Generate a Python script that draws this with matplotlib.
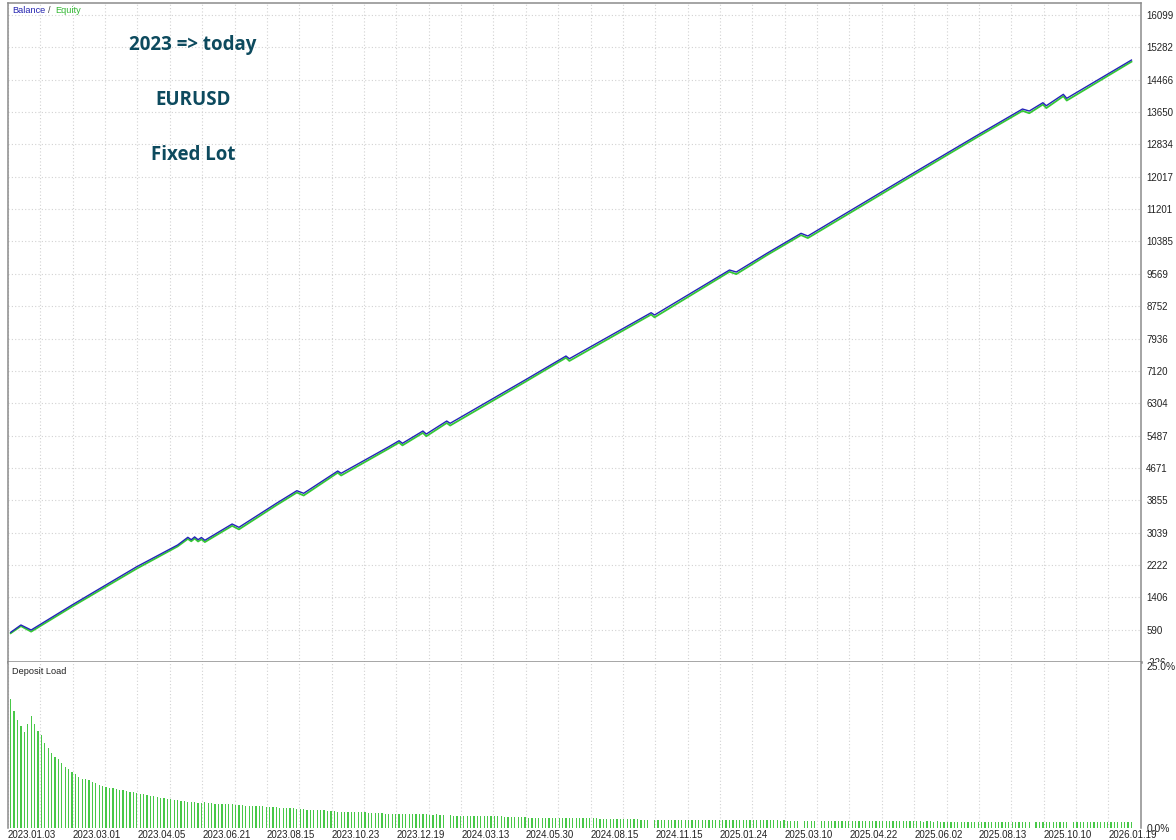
import matplotlib
matplotlib.use('Agg')
import numpy as np
import matplotlib.pyplot as plt
from matplotlib.transforms import Bbox, TransformedBbox

plt.rcParams['font.family'] = ['Liberation Sans', 'DejaVu Sans']

# balance / equity, sampled at deal numbers
bal_deal = [0, 3, 6, 18, 37, 49, 52, 53, 54, 55, 56, 57, 65, 67, 78, 84, 86, 96, 97, 111,
            114, 115, 121, 122, 128, 129, 151, 163, 164, 188, 189, 211, 213, 222, 232, 234,
            264, 283, 297, 299, 303, 304, 309, 310, 329]
bal_val = [523, 708, 581, 1212, 2178, 2726, 2920, 2860, 2930, 2860, 2915, 2845, 3256, 3172,
           3778, 4096, 4030, 4593, 4535, 5206, 5357, 5292, 5602, 5526, 5854, 5796, 6889,
           7494, 7426, 8587, 8529, 9664, 9614, 10086, 10590, 10522, 12061, 13027, 13726,
           13676, 13885, 13809, 14097, 13996, 14962]
eq_val = [500, 680, 540, 1170, 2130, 2690, 2880, 2820, 2890, 2815, 2870, 2800, 3210, 3120,
          3730, 4050, 3975, 4550, 4480, 5160, 5310, 5240, 5555, 5470, 5805, 5740, 6840,
          7450, 7370, 8540, 8470, 9620, 9560, 10040, 10545, 10470, 12010, 12980, 13680,
          13620, 13840, 13750, 14050, 13940, 14920]

# deposit load per deal, %
load_pct = [
    19.4, 17.6, 16.2, 15.3, 14.4, 15.7, 16.8, 15.7, 14.6, 14.0,
    12.7, 12.0, 11.3, 10.6, 10.3, 9.8, 9.2, 8.8, 8.4, 8.1,
    7.7, 7.4, 7.3, 7.1, 6.9, 6.7, 6.4, 6.2, 6.1, 6.0,
    5.9, 5.8, 5.7, 5.6, 5.5, 5.4, 5.3, 5.2, 5.1, 5.0,
    4.9, 4.8, 4.7, 4.6, 4.5, 4.4, 4.3, 4.3, 4.2, 4.1,
    4.0, 4.0, 3.9, 3.8, 3.8, 3.7, 3.7, 3.8, 3.7, 3.7,
    3.6, 3.6, 3.6, 3.5, 3.5, 3.5, 3.4, 3.4, 3.4, 3.3,
    3.3, 3.3, 3.2, 3.2, 3.2, 3.1, 3.1, 3.1, 3.1, 3.0,
    3.0, 2.9, 2.9, 2.9, 2.8, 2.8, 2.8, 2.7, 2.7, 2.7,
    2.6, 2.6, 2.6, 2.5, 2.5, 2.5, 2.4, 2.4, 2.4, 2.4,
    2.3, 2.3, 2.3, 2.3, 2.3, 2.2, 2.2, 2.2, 2.2, 2.2,
    2.1, 2.1, 2.1, 2.1, 2.1, 2.1, 2.1, 2.0, 2.1, 2.0,
    2.0, 2.0, 2.0, 1.9, 1.9, 2.0, 1.9, 1.9, 0.0, 1.9,
    1.8, 1.8, 1.8, 1.8, 1.8, 1.8, 1.8, 1.7, 1.7, 1.7,
    1.7, 1.7, 1.7, 1.7, 1.7, 1.6, 1.6, 1.6, 1.6, 1.6,
    1.6, 1.6, 1.5, 1.5, 1.5, 1.5, 1.5, 1.5, 1.5, 1.5,
    1.5, 1.4, 1.4, 1.4, 1.4, 1.4, 1.4, 1.4, 1.4, 1.4,
    1.4, 1.4, 1.4, 1.3, 1.3, 1.3, 1.3, 1.3, 1.3, 1.3,
    1.3, 1.3, 1.3, 1.3, 1.3, 1.2, 1.2, 1.2, 0.0, 1.2,
    1.2, 1.2, 1.2, 1.2, 1.2, 1.2, 1.2, 1.2, 1.2, 1.2,
    1.2, 1.2, 1.1, 1.1, 1.1, 1.1, 1.1, 1.1, 1.1, 1.1,
    1.1, 1.1, 1.1, 1.1, 1.1, 1.1, 1.1, 1.1, 1.1, 1.1,
    1.1, 1.1, 1.1, 1.1, 1.1, 1.1, 1.0, 1.1, 1.0, 1.0,
    1.0, 1.0, 0.0, 1.0, 1.0, 1.0, 1.0, 0.0, 1.0, 1.0,
    1.0, 1.0, 1.0, 1.0, 1.0, 1.0, 1.0, 1.0, 1.0, 1.0,
    1.0, 1.0, 1.0, 1.0, 1.0, 1.0, 1.0, 1.0, 1.0, 1.0,
    1.0, 1.0, 1.0, 1.0, 1.0, 1.0, 1.0, 1.0, 0.9, 1.0,
    1.0, 0.9, 1.0, 0.9, 0.9, 0.9, 0.9, 0.9, 0.9, 0.9,
    0.9, 0.9, 0.9, 0.9, 0.9, 0.9, 0.9, 0.9, 0.9, 0.9,
    0.9, 0.9, 0.9, 0.9, 0.9, 0.9, 0.9, 0.9, 0.9, 0.9,
    0.0, 0.9, 0.9, 0.9, 0.9, 0.9, 0.9, 0.9, 0.9, 0.9,
    0.9, 0.0, 0.9, 0.9, 0.9, 0.9, 0.9, 0.9, 0.9, 0.9,
    0.9, 0.9, 0.9, 0.9, 0.9, 0.9, 0.9, 0.9, 0.9, 0.9,
]

price_ticks = [16099, 15282, 14466, 13650, 12834, 12017, 11201, 10385, 9569, 8752, 7936,
               7120, 6304, 5487, 4671, 3855, 3039, 2222, 1406, 590, -226]
date_labels = ['2023.01.03', '2023.03.01', '2023.04.05', '2023.06.21', '2023.08.15',
               '2023.10.23', '2023.12.19', '2024.03.13', '2024.05.30', '2024.08.15',
               '2024.11.15', '2025.01.24', '2025.03.10', '2025.04.22', '2025.06.02',
               '2025.08.13', '2025.10.10', '2026.01.19']
titles = ['2023 => today', 'EURUSD', 'Fixed Lot']

W, H = 1176, 840
frame = '#8c8c8c'
gridc = '#d2d2d2'
fs = 7

fig = plt.figure(figsize=(W / 100, H / 100), dpi=100)
left, right = 8 / W, 1140.7 / W
ax = fig.add_axes([left, 178 / H, right - left, 659 / H])
ax2 = fig.add_axes([left, 12.5 / H, right - left, 165.5 / H])

x_lo, x_hi = -0.79, 330.4
lbl_step = 19.0
major = x_lo + lbl_step * np.arange(len(date_labels))
minor = major + lbl_step / 2

for a in (ax, ax2):
    a.set_xlim(x_lo, x_hi)
    a.set_xticks(major)
    a.set_xticks(minor, minor=True)
    a.grid(True, which='both', axis='x', color=gridc, ls=(0, (1, 2)), lw=0.8)
    a.tick_params(axis='both', which='both', length=0)
    for s in a.spines.values():
        s.set_color(frame)
        s.set_linewidth(1.1)

# main panel
ax.plot(bal_deal, eq_val, color='#35c835', lw=1.3, zorder=3)
ax.plot(bal_deal, bal_val, color='#2424b8', lw=1.0, zorder=4)
ax.set_ylim(-226, 16401)
ax.yaxis.tick_right()
ax.set_yticks(price_ticks, [str(v) for v in price_ticks])
ax.grid(True, axis='y', color=gridc, ls=(0, (1, 2)), lw=0.8)
ax.tick_params(axis='y', labelsize=fs, pad=4, labelcolor='#222222')
ax.tick_params(axis='x', labelbottom=False)
ax.spines['bottom'].set_linewidth(1.8)
clip = TransformedBbox(Bbox([[0.9, 178 / H], [1.0, 1.0]]), fig.transFigure)
for t in ax.yaxis.get_major_ticks():
    t.label2.set_clip_box(clip)
    t.label2.set_clip_on(True)

fig.text(12.5 / W, 1 - 10.5 / H, 'Balance', color='#2424b0', fontsize=fs - 0.4, va='center')
fig.text(48.5 / W, 1 - 10.5 / H, '/', color='#444444', fontsize=fs - 0.4, va='center')
fig.text(55 / W, 1 - 10.5 / H, 'Equity', color='#33b833', fontsize=fs - 0.4, va='center')

for txt, ypx in zip(titles, [45, 100, 155]):
    fig.text(193 / W, 1 - ypx / H, txt, color='#0d4a5e', fontsize=13.5,
             fontweight='bold', family=['Open Sans', 'DejaVu Sans'],
             ha='center', va='center')

# deposit load panel
ax2.bar(np.arange(len(load_pct)), load_pct, width=0.36, color='#48c848', lw=0, zorder=3)
ax2.set_ylim(0, 25.0)
ax2.yaxis.tick_right()
ax2.set_yticks([0, 25], ['0.0%', '25.0%'])
ax2.tick_params(axis='y', labelsize=fs + 0.4, pad=4, labelcolor='#222222')
ax2.yaxis.get_major_ticks()[1].label2.set_va('top')
ax2.spines['top'].set_visible(False)
ax2.spines['bottom'].set_visible(False)
ax2.set_xticklabels(date_labels, ha='left', fontsize=fs, color='#222222')
ax2.tick_params(axis='x', pad=1.5)
fig.text(12.5 / W, 1 - 672 / H, 'Deposit Load', color='#222222', fontsize=fs - 0.4, va='center')

fig.savefig('out.png', dpi=100, facecolor='white')
